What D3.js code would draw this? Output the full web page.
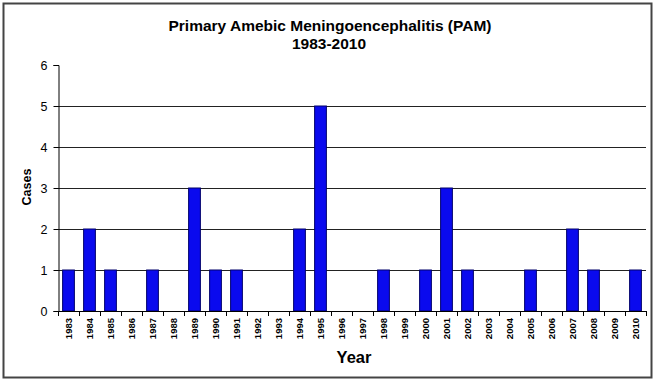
<!DOCTYPE html>
<html><head><meta charset="utf-8">
<script src="https://cdn.jsdelivr.net/npm/d3@7"></script>
<style>html,body{margin:0;padding:0;background:#fff;}svg{display:block;font-family:"Liberation Sans",Arial,sans-serif;}</style>
</head><body>
<script>
const years = ["1983","1984","1985","1986","1987","1988","1989","1990","1991","1992","1993","1994","1995","1996","1997","1998","1999","2000","2001","2002","2003","2004","2005","2006","2007","2008","2009","2010"];
const cases = [1,2,1,0,1,0,3,1,1,0,0,2,5,0,0,1,0,1,3,1,0,0,1,0,2,1,0,1];
const yTicks = [0,1,2,3,4,5,6];
const gridValues = [1,2,3,4,5];
const titleLines = ["Primary Amebic Meningoencephalitis (PAM)", "1983-2010"];
const xTitle = "Year";
const yTitle = "Cases";

const W = 657, H = 383;
const m = {left:58, right:11, top:65, bottom:72};
const svg = d3.select("body").append("svg").attr("width", W).attr("height", H);

svg.append("rect").attr("x",3.5).attr("y",3.5).attr("width",648).attr("height",374)
  .attr("fill","#fff").attr("stroke","#444").attr("stroke-width",2);

const x = d3.scaleBand().domain(years).range([m.left, W - m.right]).paddingInner(0.44).paddingOuter(0.22);
const y = d3.scaleLinear().domain([0,6]).range([H - m.bottom, m.top]);

// gridlines
svg.append("g").selectAll("line").data(gridValues).join("line")
  .attr("x1", m.left).attr("x2", W - m.right)
  .attr("y1", d => Math.round(y(d)) + 0.5).attr("y2", d => Math.round(y(d)) + 0.5)
  .attr("stroke", "#222").attr("stroke-width", 1);

// bars
svg.append("g").selectAll("rect").data(years.map((yr,i)=>({yr, v:cases[i]})).filter(d=>d.v>0)).join("rect")
  .attr("x", d => x(d.yr)).attr("width", x.bandwidth())
  .attr("y", d => y(d.v)).attr("height", d => y(0) - y(d.v))
  .attr("fill", "#0a0aee").attr("stroke", "#00006a").attr("stroke-width", 1);

// y axis
const yAxis = svg.append("g").attr("transform", `translate(${m.left + 0.5},0)`)
  .call(d3.axisLeft(y).tickValues(yTicks).tickFormat(d3.format("d")).tickSize(5).tickPadding(6));
yAxis.select(".domain").attr("stroke","#000");
yAxis.selectAll(".tick line").attr("stroke","#000");
yAxis.selectAll("text").attr("font-size", 12.5).attr("fill","#000");

// x axis line with ticks at band boundaries
const gx = svg.append("g");
gx.append("line").attr("x1", m.left).attr("x2", W - m.right)
  .attr("y1", y(0) + 0.5).attr("y2", y(0) + 0.5).attr("stroke", "#000");
const step = x.step();
const bounds = d3.range(years.length + 1).map(i => x.range()[0] + i * step);
gx.selectAll("line.tk").data(bounds).join("line").attr("class","tk")
  .attr("x1", d => Math.round(d) + 0.5).attr("x2", d => Math.round(d) + 0.5)
  .attr("y1", y(0)).attr("y2", y(0) + 5).attr("stroke", "#000");
gx.selectAll("text").data(years).join("text")
  .attr("transform", d => `translate(${x(d) + x.bandwidth()/2 + 3.5},${y(0) + 7}) rotate(-90)`)
  .attr("text-anchor", "end").attr("font-size", 9.5).attr("font-weight", "bold").text(d => d);

// titles
svg.append("text").attr("x", 330).attr("y", 31).attr("text-anchor","middle")
  .attr("font-size", 15.5).attr("font-weight","bold").text(titleLines[0]);
svg.append("text").attr("x", 329).attr("y", 49).attr("text-anchor","middle")
  .attr("font-size", 15.5).attr("font-weight","bold").text(titleLines[1]);
svg.append("text").attr("x", 354).attr("y", 363).attr("text-anchor","middle")
  .attr("font-size", 16.5).attr("font-weight","bold").text(xTitle);
svg.append("text").attr("transform", "translate(31,187) rotate(-90)").attr("text-anchor","middle")
  .attr("font-size", 12.5).attr("font-weight","bold").text(yTitle);
</script>
</body></html>
